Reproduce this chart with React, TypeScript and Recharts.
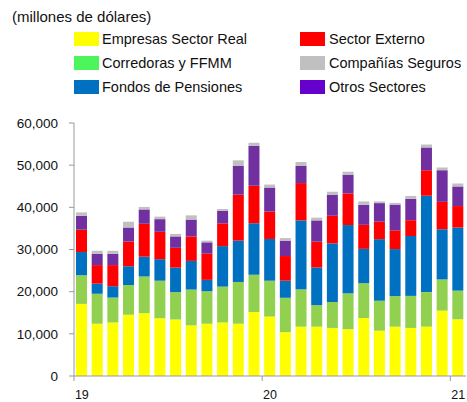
import React from 'react';
import { BarChart, Bar, XAxis, YAxis } from 'recharts';

// monthly, Jan 2019 .. Jan 2021
const months = [
  'ene-19', 'feb-19', 'mar-19', 'abr-19', 'may-19', 'jun-19', 'jul-19', 'ago-19', 'sep-19', 'oct-19', 'nov-19', 'dic-19',
  'ene-20', 'feb-20', 'mar-20', 'abr-20', 'may-20', 'jun-20', 'jul-20', 'ago-20', 'sep-20', 'oct-20', 'nov-20', 'dic-20',
  'ene-21',
];

const empresasSectorReal = [17100, 12400, 12700, 14500, 14900, 13700, 13400, 12000, 12400, 12700, 12400, 15200, 14100, 10400, 11700, 11700, 11400, 11100, 13750, 10750, 11700, 11400, 11700, 15500, 13450];
const corredorasFFMM = [6800, 7100, 5900, 7100, 8700, 8900, 6500, 8500, 7700, 8500, 9900, 8800, 8500, 8150, 8850, 5100, 6150, 8500, 8250, 7100, 7250, 7600, 8200, 7400, 6800];
const fondosPensiones = [5500, 2400, 2700, 4400, 4700, 5100, 5800, 6800, 2700, 9600, 9800, 12200, 9900, 4050, 16350, 8950, 13900, 16200, 8150, 14600, 11150, 14200, 22850, 11900, 14950];
const sectorExterno = [5300, 4400, 5000, 5900, 7800, 6500, 4700, 5800, 6200, 5400, 10900, 8900, 6500, 5850, 8850, 6100, 6550, 7500, 5700, 4150, 4450, 3750, 6050, 6500, 5100];
const otrosSectores = [3300, 2700, 2700, 3300, 3400, 3000, 2700, 4000, 2700, 3000, 6800, 9500, 5700, 3650, 4050, 5050, 5000, 4450, 4750, 4400, 6100, 5050, 5400, 7500, 4650];
const companiasSeguros = [800, 700, 700, 1400, 600, 600, 600, 1000, 400, 400, 1350, 700, 700, 600, 950, 650, 700, 700, 800, 400, 400, 700, 700, 650, 700];

const yearLabels: Record<string, string> = { 'ene-19': '19', 'ene-20': '20', 'ene-21': '21' };
const yTicks = [0, 10000, 20000, 30000, 40000, 50000, 60000];

const data = months.map((m, i) => ({
  month: m,
  real: empresasSectorReal[i],
  corredoras: corredorasFFMM[i],
  pensiones: fondosPensiones[i],
  externo: sectorExterno[i],
  otros: otrosSectores[i],
  seguros: companiasSeguros[i],
}));

const legendLeft = [
  { name: 'Empresas Sector Real', color: '#ffff00' },
  { name: 'Corredoras y FFMM', color: '#4cf55c' },
  { name: 'Fondos de Pensiones', color: '#0070c0' },
];
const legendRight = [
  { name: 'Sector Externo', color: '#ff0000' },
  { name: 'Compañías Seguros', color: '#c0c0c0' },
  { name: 'Otros Sectores', color: '#6600cc' },
];

const W = 467;
const H = 402;
const AXIS_LEFT = 74;
const RIGHT = 1;
const BAND = (W - AXIS_LEFT - RIGHT) / months.length;
const FONT = '"Liberation Sans", Arial, sans-serif';

const YearTick = (props: any) => {
  const { x, y, payload } = props;
  const label = yearLabels[payload.value];
  if (!label) return null;
  const bx = x - BAND / 2;
  return (
    <g>
      <line x1={bx} y1={y} x2={bx} y2={y + 5} stroke="#999" />
      <text x={x} y={y + 20} textAnchor="middle" dominantBaseline="middle" fontSize={12.5} fill="#111" fontFamily={FONT}>
        {label}
      </text>
    </g>
  );
};

const LegendCol = ({ items, left, textLeft }: { items: typeof legendLeft; left: number; textLeft: number }) => (
  <>
    {items.map((it, i) => (
      <React.Fragment key={it.name}>
        <div style={{ position: 'absolute', left, top: 32 + i * 24, width: 25, height: 14, background: it.color }} />
        <div style={{ position: 'absolute', left: textLeft, top: 39 + i * 24, transform: 'translateY(-50%)', fontSize: 14.5, lineHeight: 1, color: '#111', whiteSpace: 'nowrap' }}>
          {it.name}
        </div>
      </React.Fragment>
    ))}
  </>
);

export default function App() {
  return (
    <div style={{ position: 'absolute', left: 0, top: 0, width: W, height: H, background: '#fff', fontFamily: FONT }}>
      <div style={{ position: 'absolute', left: 12, top: 16, transform: 'translateY(-50%)', fontSize: 15, lineHeight: 1, color: '#111', whiteSpace: 'nowrap' }}>
        (millones de dólares)
      </div>
      <LegendCol items={legendLeft} left={74} textLeft={102} />
      <LegendCol items={legendRight} left={300} textLeft={329} />
      <BarChart width={W} height={H} data={data} margin={{ top: 123, right: RIGHT, left: 0, bottom: 0 }} barSize={11}>
        <XAxis
          dataKey="month"
          height={26}
          interval={0}
          tickLine={false}
          tickSize={0}
          tickMargin={0}
          axisLine={{ stroke: '#999' }}
          tick={<YearTick />}
        />
        <YAxis
          width={AXIS_LEFT}
          domain={[0, 60000]}
          ticks={yTicks}
          tickSize={5}
          tickMargin={11}
          axisLine={{ stroke: '#999' }}
          tickLine={{ stroke: '#999' }}
          tick={{ fontSize: 13.5, fill: '#111', fontFamily: FONT }}
          tickFormatter={(v: number) => v.toLocaleString('en-US')}
        />
        <Bar dataKey="real" stackId="a" fill="#ffff00" isAnimationActive={false} />
        <Bar dataKey="corredoras" stackId="a" fill="#92d050" isAnimationActive={false} />
        <Bar dataKey="pensiones" stackId="a" fill="#0070c0" isAnimationActive={false} />
        <Bar dataKey="externo" stackId="a" fill="#ff0000" isAnimationActive={false} />
        <Bar dataKey="otros" stackId="a" fill="#7030a0" isAnimationActive={false} />
        <Bar dataKey="seguros" stackId="a" fill="#c0c0c0" isAnimationActive={false} />
      </BarChart>
    </div>
  );
}
